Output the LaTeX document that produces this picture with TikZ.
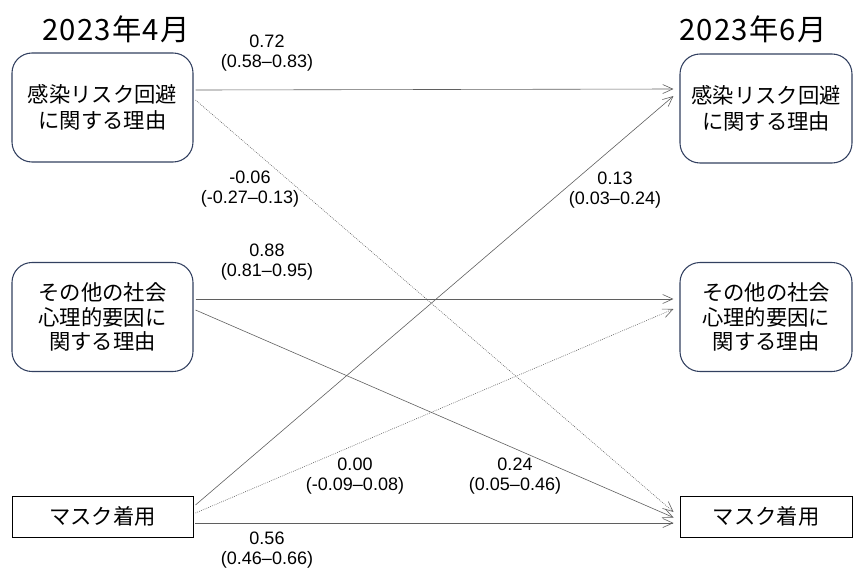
\documentclass[tikz,border=0pt]{standalone}
\usepackage{fontspec}
\setmainfont{Liberation Sans}
\newfontfamily\jp{Noto Sans CJK JP}
\newfontfamily\titlefont[LetterSpace=4]{Noto Sans CJK JP}
\usetikzlibrary{arrows.meta,calc}
\definecolor{boxblue}{RGB}{50,64,96}
\definecolor{linegray}{RGB}{95,95,95}
\begin{document}
\begin{tikzpicture}[x=0.75pt,y=-0.75pt,
  rbox/.style={draw=boxblue,line width=0.8pt,rounded corners=15pt,align=center,
    minimum height=81.75pt,inner sep=0pt},
  sbox/.style={draw=black,line width=0.7pt,align=center,minimum height=30.75pt,inner sep=0pt,
    font=\jp\fontsize{16}{19.5}\selectfont},
  lwide/.style={minimum width=135.75pt},
  rwide/.style={minimum width=129pt},
  txtA/.style={font=\jp\fontsize{16}{20}\selectfont},
  txtB/.style={font=\jp\fontsize{16}{18.5}\selectfont},
  lbl/.style={align=center,inner sep=0pt,font=\fontsize{13.5}{15.5}\selectfont},
  ttl/.style={inner sep=0pt,font=\titlefont\fontsize{22}{24}\selectfont},
  conn/.style={draw=linegray,line width=0.45pt,-{Straight Barb[length=7.5pt,width=6.75pt,line width=0.45pt]}},
  dconn/.style={conn,dash pattern=on 0.6pt off 0.9pt}]
\useasboundingbox (0,0) rectangle (856,572);

\node[ttl] (T1) at (116,29) {2023年4月};
\node[ttl] (T2) at (753,29) {2023年6月};

\node[rbox,lwide,txtA] (L1) at (102.5,107.5) {感染リスク回避\\に関する理由};
\node[rbox,rwide,txtA] (R1) at (766,108.5) {感染リスク回避\\に関する理由};
\node[rbox,lwide,txtB] (L2) at (102.5,317) {その他の社会\\心理的要因に\\関する理由};
\node[rbox,rwide,txtB] (R2) at (766,317) {その他の社会\\心理的要因に\\関する理由};
\node[sbox,lwide] (L3) at (102.5,516.5) {マスク着用};
\node[sbox,rwide] (R3) at (766,516.5) {マスク着用};

% connectors
\draw[conn] ($(L1.east)+(2,-17.5)$) -- ($(R1.west)+(-6,-19.5)$);
\draw[dconn] ($(L1.east)+(2,-7.5)$) -- ($(R3.west)+(-6,-4.5)$);
\draw[conn] ($(L2.east)+(2,-18)$) -- ($(R2.west)+(-6,-18)$);
\draw[conn] ($(L2.east)+(2,-7)$) -- ($(R3.west)+(-6,1)$);
\draw[conn] ($(L3.east)+(2,-11.5)$) -- ($(R1.west)+(-6,-12.5)$);
\draw[dconn] ($(L3.east)+(2,-3.5)$) -- ($(R2.west)+(-6,-8)$);
\draw[conn] ($(L3.east)+(2,6.5)$) -- ($(R3.west)+(-6,6.5)$);

% labels
\node[lbl] (a1) at (267,53) {0.72\\(0.58–0.83)};
\node[lbl] (a2) at (250,189) {-0.06\\(-0.27–0.13)};
\node[lbl] (a3) at (267,262) {0.88\\(0.81–0.95)};
\node[lbl] (a4) at (615,190) {0.13\\(0.03–0.24)};
\node[lbl] (a5) at (355,476) {0.00\\(-0.09–0.08)};
\node[lbl] (a6) at (515,476) {0.24\\(0.05–0.46)};
\node[lbl] (a7) at (267,550) {0.56\\(0.46–0.66)};
\end{tikzpicture}
\end{document}
